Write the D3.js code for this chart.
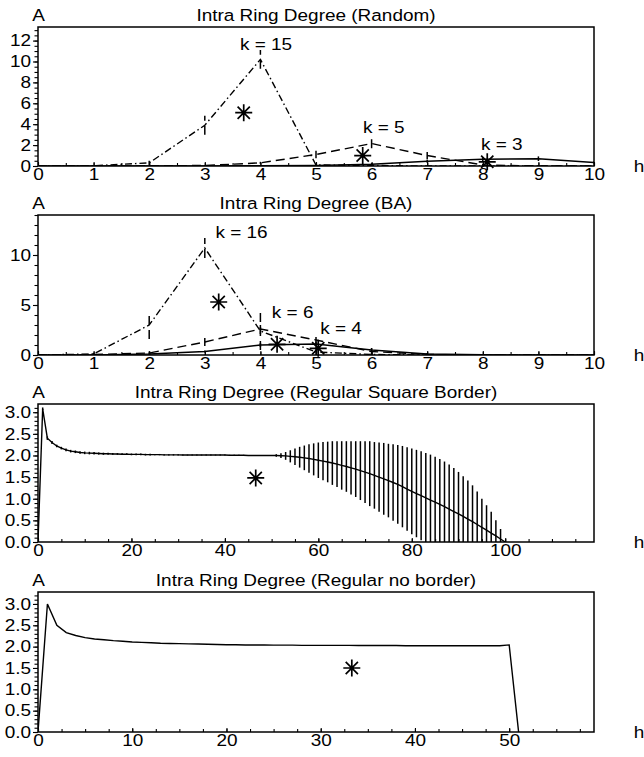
<!DOCTYPE html>
<html>
<head>
<meta charset="utf-8">
<script src="https://cdn.jsdelivr.net/npm/d3@7"></script>
<style>
  body { margin: 0; background: #fff; }
  svg text { font-family: "Liberation Sans", Arial, sans-serif; font-size: 16.5px; fill: #000; }
</style>
</head>
<body>
<svg id="chart" width="644" height="757"></svg>
<script>
'use strict';

// hop index for the Random and BA panels
const hops = [0, 1, 2, 3, 4, 5, 6, 7, 8, 9, 10];

// Random network: mean A per hop and error half-widths
const randomK15 = [0, 0.02, 0.3, 3.9, 10.2, 0.1, 0.05, 0, 0, 0, 0];
const randomK15Err = [0, 0.05, 0.2, 0.9, 0.9, 0.15, 0.05, 0, 0, 0, 0];
const randomK5 = [0, 0, 0.02, 0.05, 0.3, 1.1, 2.15, 1.0, 0.1, 0, 0];
const randomK5Err = [0, 0, 0, 0.05, 0.1, 0.35, 0.45, 0.35, 0.1, 0, 0];
const randomK3 = [0, 0, 0, 0, 0.02, 0.05, 0.17, 0.45, 0.65, 0.7, 0.33];
const randomK3Err = [0, 0, 0, 0, 0, 0.05, 0.1, 0.15, 0.2, 0.22, 0.1];
const randomLabels = ["k = 15", "k = 5", "k = 3"];
const randomLabelX = [4.1, 6.22, 8.34];
const randomLabelY = [11.7, 3.74, 2.1];
const randomStarX = [3.7, 5.84, 8.08];
const randomStarY = [5.1, 1.0, 0.4];

// BA network
const baK16 = [0, 0.1, 3.0, 10.7, 2.4, 0.3, 0.05, 0, 0, 0, 0];
const baK16Err = [0, 0.1, 1.4, 1.0, 1.9, 0.5, 0.1, 0, 0, 0, 0];
const baK6 = [0, 0.05, 0.2, 1.3, 2.6, 1.5, 0.35, 0.05, 0, 0, 0];
const baK6Err = [0, 0.05, 0.15, 0.4, 0.5, 0.6, 0.3, 0.05, 0, 0, 0];
const baK4 = [0, 0, 0.1, 0.35, 1.0, 1.1, 0.5, 0.1, 0.02, 0, 0];
const baK4Err = [0, 0, 0.05, 0.1, 0.2, 0.25, 0.2, 0.1, 0, 0, 0];
const baLabels = ["k = 16", "k = 6", "k = 4"];
const baLabelX = [3.66, 4.58, 5.45];
const baLabelY = [12.25, 4.25, 2.67];
const baStarX = [3.25, 4.3, 5.04];
const baStarY = [5.3, 1.07, 0.67];

// Regular lattice with square border, hops 0..100
const squareA = [
  0, 3.08, 2.4, 2.3, 2.22, 2.17, 2.13, 2.1, 2.085, 2.07,
  2.06, 2.055, 2.05, 2.045, 2.04, 2.04, 2.035, 2.035, 2.03, 2.03,
  2.025, 2.025, 2.025, 2.02, 2.02, 2.02, 2.02, 2.015, 2.015, 2.015,
  2.015, 2.01, 2.01, 2.01, 2.01, 2.01, 2.01, 2.01, 2.01, 2.01,
  2.01, 2.005, 2.005, 2.005, 2.005, 2.0, 2.0, 2.0, 2.0, 2.0,
  2.0, 2.0, 1.995, 1.99, 1.98, 1.97, 1.96, 1.945, 1.93, 1.91,
  1.89, 1.87, 1.85, 1.825, 1.8, 1.77, 1.745, 1.715, 1.685, 1.65,
  1.615, 1.58, 1.54, 1.5, 1.46, 1.42, 1.375, 1.33, 1.28, 1.225,
  1.17, 1.12, 1.07, 1.02, 0.97, 0.92, 0.87, 0.815, 0.76, 0.705,
  0.65, 0.59, 0.53, 0.47, 0.405, 0.34, 0.275, 0.205, 0.14, 0.07,
  0
];
const squareErr = [
  0, 0.03, 0.04, 0.035, 0.03, 0.03, 0.03, 0.03, 0.03, 0.03,
  0.03, 0.03, 0.03, 0.025, 0.025, 0.025, 0.02, 0.02, 0.02, 0.02,
  0.02, 0.02, 0.02, 0.02, 0.02, 0.015, 0.015, 0.015, 0.015, 0.015,
  0.015, 0.01, 0.01, 0.01, 0.01, 0.01, 0.01, 0.01, 0.01, 0.01,
  0.01, 0.01, 0.01, 0.01, 0.01, 0.01, 0.01, 0.01, 0.01, 0.01,
  0.01, 0.03, 0.055, 0.09, 0.14, 0.19, 0.24, 0.285, 0.33, 0.37,
  0.41, 0.44, 0.47, 0.505, 0.53, 0.56, 0.585, 0.615, 0.645, 0.68,
  0.715, 0.75, 0.77, 0.8, 0.83, 0.85, 0.885, 0.91, 0.94, 0.965,
  0.99, 1.01, 1.03, 1.04, 1.05, 1.05, 1.05, 1.045, 1.03, 1.005,
  0.97, 0.93, 0.89, 0.84, 0.765, 0.66, 0.575, 0.495, 0.36, 0.23,
  0
];
const squareStarX = [46.6];
const squareStarY = [1.48];

// Regular lattice, no border, hops 0..51
const noBorderA = [
  0, 3.0, 2.5, 2.33, 2.26, 2.21, 2.18, 2.16, 2.14, 2.125,
  2.11, 2.1, 2.09, 2.08, 2.075, 2.07, 2.065, 2.06, 2.055, 2.05,
  2.045, 2.045, 2.04, 2.04, 2.04, 2.035, 2.035, 2.035, 2.03, 2.03,
  2.03, 2.03, 2.03, 2.03, 2.025, 2.025, 2.025, 2.025, 2.025, 2.02,
  2.02, 2.02, 2.02, 2.02, 2.02, 2.02, 2.02, 2.02, 2.02, 2.02,
  2.04, 0
];
const noBorderStarX = [33.3];
const noBorderStarY = [1.5];

// tick labels
const hopTicks = [0, 1, 2, 3, 4, 5, 6, 7, 8, 9, 10];
const randomYTicks = [0, 2, 4, 6, 8, 10, 12];
const baYTicks = [0, 5, 10];
const regularYTicks = [0, 0.5, 1.0, 1.5, 2.0, 2.5, 3.0];
const squareXTicks = [0, 20, 40, 60, 80, 100];
const noBorderXTicks = [0, 10, 20, 30, 40, 50];

const STRETCH = 1.15;
const left = 38, right = 594;
const dashes = { dashdot: "7,3,1.5,3", dashed: "9,5", solid: null };

const svg = d3.select("#chart");

function addText(sel, str, px, py, anchor) {
    return sel.append("text")
        .attr("transform", `translate(${px},${py}) scale(${STRETCH},1)`)
        .attr("text-anchor", anchor || "middle")
        .attr("dy", "0.36em")
        .text(str);
}

function starPath(cx, cy, r) {
    const d = r * 0.72;
    const p = d3.path();
    p.moveTo(cx - r, cy); p.lineTo(cx + r, cy);
    p.moveTo(cx, cy - r); p.lineTo(cx, cy + r);
    p.moveTo(cx - d, cy - d); p.lineTo(cx + d, cy + d);
    p.moveTo(cx - d, cy + d); p.lineTo(cx + d, cy - d);
    return p.toString();
}

const panels = [
    {
        title: "Intra Ring Degree (Random)", top: 27, bottom: 166,
        xMax: 10, xTicks: hopTicks, xMinor: 0.5, xFormat: d3.format("d"),
        yMax: 13.3, yTicks: randomYTicks, yMinor: 0.5, yFormat: d3.format("d"),
        series: [
            { xs: hops, ys: randomK15, err: randomK15Err, style: "dashdot" },
            { xs: hops, ys: randomK5, err: randomK5Err, style: "dashed" },
            { xs: hops, ys: randomK3, err: randomK3Err, style: "solid" }
        ],
        labels: randomLabels, labelX: randomLabelX, labelY: randomLabelY,
        starX: randomStarX, starY: randomStarY, starDot: false
    },
    {
        title: "Intra Ring Degree (BA)", top: 215, bottom: 355,
        xMax: 10, xTicks: hopTicks, xMinor: 0.5, xFormat: d3.format("d"),
        yMax: 14, yTicks: baYTicks, yMinor: 1, yFormat: d3.format("d"),
        series: [
            { xs: hops, ys: baK16, err: baK16Err, style: "dashdot" },
            { xs: hops, ys: baK6, err: baK6Err, style: "dashed" },
            { xs: hops, ys: baK4, err: baK4Err, style: "solid" }
        ],
        labels: baLabels, labelX: baLabelX, labelY: baLabelY,
        starX: baStarX, starY: baStarY, starDot: false
    },
    {
        title: "Intra Ring Degree (Regular Square Border)", top: 404, bottom: 542,
        xMax: 119, xTicks: squareXTicks, xMinor: 5, xFormat: d3.format("d"),
        yMax: 3.19, yTicks: regularYTicks, yMinor: 0.1, yFormat: d3.format(".1f"),
        series: [
            { xs: d3.range(squareA.length), ys: squareA, err: squareErr, style: "solid" }
        ],
        labels: [], labelX: [], labelY: [],
        starX: squareStarX, starY: squareStarY, starDot: true
    },
    {
        title: "Intra Ring Degree (Regular no border)", top: 592, bottom: 732,
        xMax: 59, xTicks: noBorderXTicks, xMinor: 2.5, xFormat: d3.format("d"),
        yMax: 3.28, yTicks: regularYTicks, yMinor: 0.1, yFormat: d3.format(".1f"),
        series: [
            { xs: d3.range(noBorderA.length), ys: noBorderA, err: null, style: "solid" }
        ],
        labels: [], labelX: [], labelY: [],
        starX: noBorderStarX, starY: noBorderStarY, starDot: true
    }
];

panels.forEach((p, pi) => {
    const x = d3.scaleLinear().domain([0, p.xMax]).range([left, right]);
    const y = d3.scaleLinear().domain([0, p.yMax]).range([p.bottom, p.top]);
    const g = svg.append("g");

    g.append("clipPath").attr("id", "clip" + pi)
      .append("rect")
        .attr("x", left).attr("y", p.top)
        .attr("width", right - left).attr("height", p.bottom - p.top);

    // x axis: minor then labelled ticks, pointing inwards
    g.append("g")
        .attr("transform", `translate(0,${p.bottom})`)
        .call(d3.axisBottom(x).tickValues(d3.range(0, p.xMax + 1e-9, p.xMinor))
            .tickSize(-3).tickSizeOuter(0).tickFormat(""))
        .call(a => a.select(".domain").remove());
    const xa = g.append("g")
        .attr("transform", `translate(0,${p.bottom})`)
        .call(d3.axisBottom(x).tickValues(p.xTicks).tickSize(-4).tickSizeOuter(0)
            .tickPadding(2).tickFormat(p.xFormat));
    xa.select(".domain").remove();
    xa.selectAll("text").attr("transform", `scale(${STRETCH},1)`);

    // y axis: ticks pointing out to the left
    g.append("g")
        .attr("transform", `translate(${left},0)`)
        .call(d3.axisLeft(y).tickValues(d3.range(0, p.yMax + 1e-9, p.yMinor))
            .tickSize(3.5).tickSizeOuter(0).tickFormat(""))
        .call(a => a.select(".domain").remove());
    const ya = g.append("g")
        .attr("transform", `translate(${left},0)`)
        .call(d3.axisLeft(y).tickValues(p.yTicks).tickSize(5).tickSizeOuter(0)
            .tickPadding(2).tickFormat(p.yFormat));
    ya.select(".domain").remove();
    ya.selectAll("text")
        .attr("x", -7 / STRETCH)
        .attr("transform", `scale(${STRETCH},1)`);

    g.selectAll(".tick line").attr("stroke", "#000").attr("stroke-width", 1.1);

    // frame
    g.append("rect")
        .attr("x", left).attr("y", p.top)
        .attr("width", right - left).attr("height", p.bottom - p.top)
        .attr("fill", "none").attr("stroke", "#000").attr("stroke-width", 1.5);

    const plot = g.append("g").attr("clip-path", `url(#clip${pi})`);

    p.series.forEach(s => {
        const line = d3.line()
            .x((d, i) => x(s.xs[i]))
            .y(d => y(d));
        plot.append("path")
            .attr("d", line(s.ys))
            .attr("fill", "none")
            .attr("stroke", "#000")
            .attr("stroke-width", 1.4)
            .attr("stroke-dasharray", dashes[s.style]);

        if (s.err) {
            const bars = s.ys.map((v, i) => ({ x: s.xs[i], v: v, e: s.err[i] }))
                .filter(d => d.e > 0);
            plot.selectAll(null)
                .data(bars)
                .join("line")
                  .attr("x1", d => x(d.x)).attr("x2", d => x(d.x))
                  .attr("y1", d => y(Math.max(0, d.v - d.e)))
                  .attr("y2", d => y(d.v + d.e))
                  .attr("stroke", "#000")
                  .attr("stroke-width", 1.5)
                  .attr("stroke-dasharray", s.style === "solid" ? null : dashes.dashed);
        }
    });

    // mean markers
    p.starX.forEach((sx, i) => {
        g.append("path")
            .attr("d", starPath(x(sx), y(p.starY[i]), 8.5))
            .attr("fill", "none")
            .attr("stroke", "#000")
            .attr("stroke-width", 1.7);
        if (p.starDot) {
            g.append("circle")
                .attr("cx", x(sx)).attr("cy", y(p.starY[i]))
                .attr("r", 2).attr("fill", "#000");
        }
    });

    p.labels.forEach((lab, i) => {
        addText(g, lab, x(p.labelX[i]), y(p.labelY[i]));
    });

    addText(g, p.title, (left + right) / 2, p.top - 11.5);
    addText(g, "A", left + 0.5, p.top - 11.5);
    addText(g, "h", 639, p.bottom + 0.5);
});
</script>
</body>
</html>
